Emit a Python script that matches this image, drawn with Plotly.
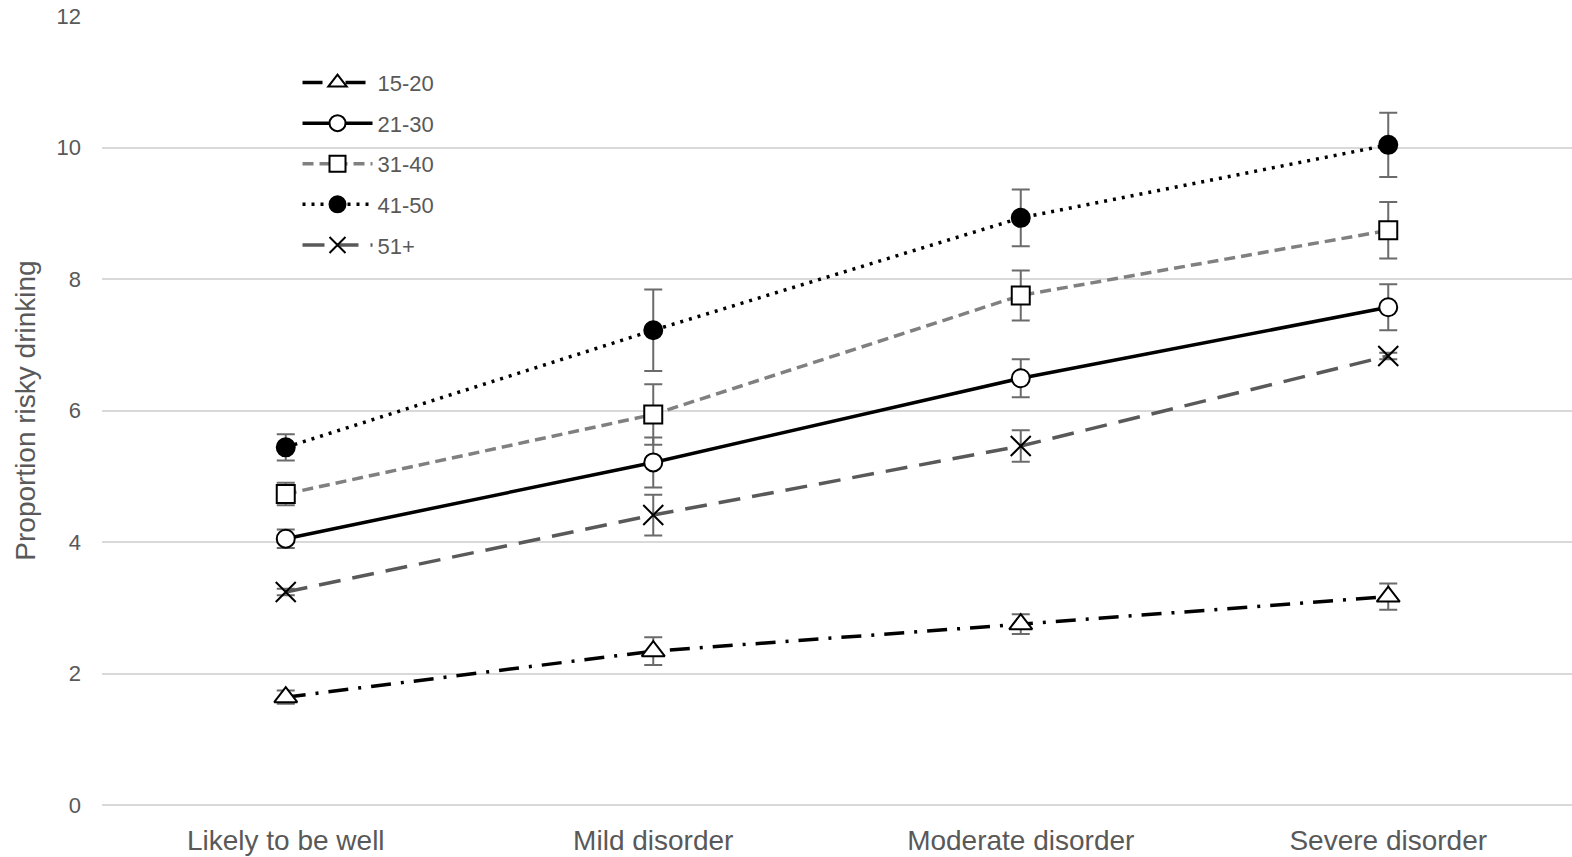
import plotly.graph_objects as go

categories = ["Likely to be well", "Mild disorder", "Moderate disorder", "Severe disorder"]

age_15_20 = [1.64, 2.34, 2.75, 3.17]
err_15_20 = [0.10, 0.21, 0.15, 0.20]

age_21_30 = [4.05, 5.21, 6.49, 7.57]
err_21_30 = [0.14, 0.38, 0.29, 0.35]

age_31_40 = [4.73, 5.94, 7.75, 8.74]
err_31_40 = [0.17, 0.46, 0.38, 0.43]

age_41_50 = [5.44, 7.22, 8.93, 10.04]
err_41_50 = [0.20, 0.62, 0.43, 0.49]

age_51 = [3.24, 4.41, 5.46, 6.83]
err_51 = [0.05, 0.31, 0.24, 0.05]

FONT = "Liberation Sans, Arial, sans-serif"
ERR_COLOR = "#6b6b6b"

series = [
    ("15-20", age_15_20, err_15_20, "black", "20px,10px,3px,10px", "triangle-up", "white", 20),
    ("21-30", age_21_30, err_21_30, "black", "solid", "circle", "white", 18),
    ("31-40", age_31_40, err_31_40, "#808080", "11px,6px", "square", "white", 18),
    ("41-50", age_41_50, err_41_50, "black", "3px,6px", "circle", "black", 18),
    ("51+", age_51, err_51, "#595959", "22px,12px", "x-thin", "black", 20),
]

fig = go.Figure()
for name, vals, errs, color, dash, symbol, fill, size in series:
    if symbol == "x-thin":
        marker = dict(symbol=symbol, size=size, color="black",
                      line=dict(color="black", width=2))
    else:
        marker = dict(symbol=symbol, size=size, color=fill,
                      line=dict(color="black", width=2))
    fig.add_trace(go.Scatter(
        x=categories, y=vals, name=name, mode="lines+markers",
        line=dict(color=color, width=3.5, dash=dash),
        marker=marker,
        error_y=dict(type="data", array=errs, visible=True,
                     color=ERR_COLOR, thickness=2, width=9),
        legendgroup=name,
    ))

fig.update_layout(
    width=1572, height=857,
    margin=dict(l=102, r=0, t=16, b=52),
    paper_bgcolor="white", plot_bgcolor="white",
    font=dict(family=FONT, color="#595959"),
    showlegend=True,
    legend=dict(
        x=0.133, y=0.942, xanchor="left", yanchor="top",
        font=dict(size=22, color="#595959", family=FONT),
        bgcolor="rgba(0,0,0,0)", itemwidth=70, tracegroupgap=9,
    ),
    xaxis=dict(
        type="category", range=[-0.5, 3.5], showgrid=False, showline=False, zeroline=False,
        tickfont=dict(size=28, color="#595959", family=FONT),
        ticks="", ticklabelstandoff=16, automargin=False,
    ),
    yaxis=dict(
        range=[0, 12], dtick=2, showgrid=True, gridcolor="#d9d9d9", gridwidth=1.5,
        zeroline=True, zerolinecolor="#d9d9d9", zerolinewidth=1.5,
        showline=False, ticks="", automargin=False,
        tickfont=dict(size=22, color="#595959", family=FONT),
        ticklabelstandoff=20,
        title=dict(text="Proportion risky drinking", standoff=12,
                   font=dict(size=28, color="#595959", family=FONT)),
    ),
)

fig.write_html("out.html")
